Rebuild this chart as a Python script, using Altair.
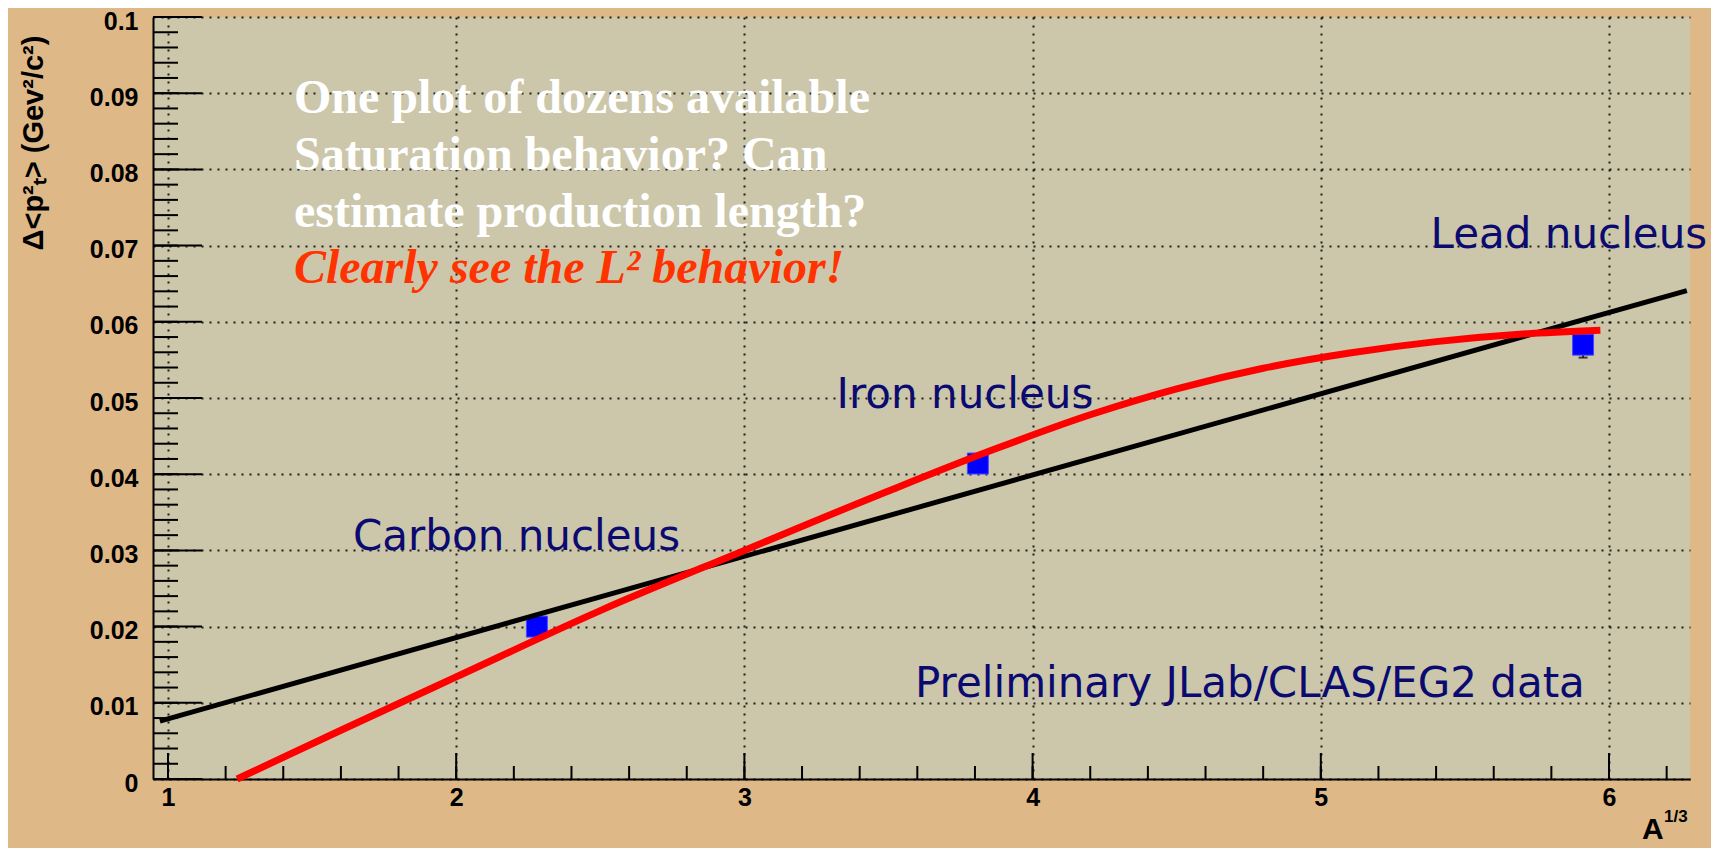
import altair as alt
import pandas as pd

# ---------------- data ----------------
X_DOMAIN = [0.948, 6.281]
Y_DOMAIN = [0.0, 0.1]

NUCLEI = ["Carbon", "Iron", "Lead"]
A13 = [2.28, 3.81, 5.91]
DPT2 = [0.0200, 0.0414, 0.0570]
DPT2_ERR = [0.0010, 0.0012, 0.0017]

LIN_X = [0.972, 6.27]
LIN_Y = [0.0076, 0.0641]

CURVE_X = [1.24, 1.6, 2.0, 2.5, 3.0, 3.5, 3.876, 4.2, 4.5, 4.8, 5.1, 5.4, 5.7, 5.97]
CURVE_Y = [0.0, 0.0064, 0.0134, 0.0221, 0.0300, 0.0378, 0.0434, 0.0478, 0.0512,
           0.0539, 0.0559, 0.0574, 0.0584, 0.0589]

X_TICKS = [1, 2, 3, 4, 5, 6]
X_MINOR = [1.0, 1.2, 1.4, 1.6, 1.8, 2.0, 2.2, 2.4, 2.6, 2.8, 3.0, 3.2, 3.4, 3.6, 3.8,
           4.0, 4.2, 4.4, 4.6, 4.8, 5.0, 5.2, 5.4, 5.6, 5.8, 6.0, 6.2]
Y_TICKS = [0.0, 0.01, 0.02, 0.03, 0.04, 0.05, 0.06, 0.07, 0.08, 0.09, 0.1]
Y_MINOR = [round(i * 0.002, 3) for i in range(51)]

NOTE_LINES = ["One plot of dozens available", "Saturation behavior? Can",
              "estimate production length?"]
NOTE_X = [1.437, 1.437, 1.437]
NOTE_Y = [0.0874, 0.0799, 0.0724]
RED_NOTE = ["Clearly see the L\u00b2 behavior!"]
RED_NOTE_X = [1.437]
RED_NOTE_Y = [0.0651]

LABELS = ["Lead nucleus", "Iron nucleus", "Carbon nucleus",
          "Preliminary JLab/CLAS/EG2 data"]
LABEL_X = [5.381, 3.32, 1.642, 3.592]
LABEL_Y = [0.0697, 0.0487, 0.0301, 0.0108]

# ---------------- styles ----------------
OUTER_BG = "#DEB887"
PLOT_BG = "#CCC7AA"
NAVY = "#0A0A70"
W, H = 1537, 762

xs = alt.Scale(domain=X_DOMAIN, nice=False, zero=False)
ys = alt.Scale(domain=Y_DOMAIN, nice=False, zero=False)

xaxis = alt.Axis(values=X_TICKS, format="d", title=None, grid=True,
                 gridDash=[2, 6], gridColor="black", gridWidth=2, gridOpacity=0.85,
                 ticks=False, domainColor="black", domainWidth=2,
                 labelFont="Liberation Sans", labelFontWeight="bold",
                 labelFontSize=25, labelColor="black", labelPadding=6,
                 labelFlush=False)
yaxis = alt.Axis(values=Y_TICKS, format="~g", title=None, grid=True,
                 gridDash=[2, 6], gridColor="black", gridWidth=2, gridOpacity=0.85,
                 ticks=False, domainColor="black", domainWidth=2,
                 labelFont="Liberation Sans", labelFontWeight="bold",
                 labelFontSize=25, labelColor="black", labelPadding=15,
                 labelOffset=4, labelFlush=False)


def X(f="x"):
    return alt.X(f"{f}:Q", scale=xs, axis=xaxis)


def Y(f="y"):
    return alt.Y(f"{f}:Q", scale=ys, axis=yaxis)


pts = pd.DataFrame({"name": NUCLEI, "x": A13, "y": DPT2, "err": DPT2_ERR})
pts["lo"] = pts["y"] - pts["err"]
pts["hi"] = pts["y"] + pts["err"]

lin = pd.DataFrame({"x": LIN_X, "y": LIN_Y})
curve = pd.DataFrame({"x": CURVE_X, "y": CURVE_Y})

# inward ticks
ymaj = alt.Chart(pd.DataFrame({"y": Y_TICKS})).mark_rule(color="black", strokeWidth=2).encode(
    y=Y(), x=alt.value(0), x2=alt.value(49))
ymin = alt.Chart(pd.DataFrame({"y": Y_MINOR})).mark_rule(color="black", strokeWidth=2).encode(
    y=Y(), x=alt.value(0), x2=alt.value(25))
xmaj = alt.Chart(pd.DataFrame({"x": X_TICKS})).mark_rule(color="black", strokeWidth=2).encode(
    x=X(), y=alt.value(H), y2=alt.value(H - 26))
xmin = alt.Chart(pd.DataFrame({"x": X_MINOR})).mark_rule(color="black", strokeWidth=2).encode(
    x=X(), y=alt.value(H), y2=alt.value(H - 13))

# data points with error bars
err = alt.Chart(pts).mark_rule(color="black", strokeWidth=1.5).encode(
    x=X(), y=Y("lo"), y2="hi:Q")
caps_lo = alt.Chart(pts).mark_tick(color="black", orient="horizontal", size=9, thickness=2).encode(
    x=X(), y=Y("lo"))
caps_hi = alt.Chart(pts).mark_tick(color="black", orient="horizontal", size=9, thickness=2).encode(
    x=X(), y=Y("hi"))
squares = alt.Chart(pts).mark_square(color="#0000FF", size=441, opacity=1,
                                     stroke="#4A4AFF", strokeWidth=1).encode(
    x=X(), y=Y())

line_fit = alt.Chart(lin).mark_line(color="black", strokeWidth=5).encode(x=X(), y=Y())
curve_fit = alt.Chart(curve).mark_line(color="#FF0000", strokeWidth=7,
                                       interpolate="monotone").encode(x=X(), y=Y())

notes = alt.Chart(pd.DataFrame({"t": NOTE_LINES, "x": NOTE_X, "y": NOTE_Y})).mark_text(
    font="Liberation Serif", fontWeight="bold", fontSize=48, color="white",
    align="left", baseline="alphabetic").encode(x=X(), y=Y(), text="t:N")
red_note = alt.Chart(pd.DataFrame({"t": RED_NOTE, "x": RED_NOTE_X, "y": RED_NOTE_Y})).mark_text(
    font="Liberation Serif", fontWeight="bold", fontStyle="italic", fontSize=48,
    color="#FF3300", align="left", baseline="alphabetic").encode(x=X(), y=Y(), text="t:N")
labels = alt.Chart(pd.DataFrame({"t": LABELS, "x": LABEL_X, "y": LABEL_Y})).mark_text(
    font="DejaVu Sans", fontSize=42, color=NAVY,
    align="left", baseline="alphabetic").encode(x=X(), y=Y(), text="t:N")

# axis titles
ytitle = alt.Chart(pd.DataFrame({"t": ["\u0394<p\u00b2\u209c> (Gev\u00b2/c\u00b2)"]})).mark_text(
    font="Liberation Sans", fontWeight="bold", fontSize=29, color="black", angle=270,
    align="center", baseline="alphabetic").encode(
    x=alt.value(-110), y=alt.value(126), text="t:N")
xtitle_a = alt.Chart(pd.DataFrame({"t": ["A"]})).mark_text(
    font="Liberation Sans", fontWeight="bold", fontSize=30, color="black",
    align="left", baseline="alphabetic").encode(
    x=alt.value(1489), y=alt.value(822), text="t:N")
xtitle_p = alt.Chart(pd.DataFrame({"t": ["1/3"]})).mark_text(
    font="Liberation Sans", fontWeight="bold", fontSize=17, color="black",
    align="left", baseline="alphabetic").encode(
    x=alt.value(1511), y=alt.value(805), text="t:N")

chart = alt.layer(
    ymin, ymaj, xmin, xmaj,
    err, caps_lo, caps_hi, squares,
    line_fit, curve_fit,
    notes, red_note, labels,
    ytitle, xtitle_a, xtitle_p,
).properties(
    width=W, height=H,
    background=OUTER_BG,
    autosize=alt.AutoSizeParams(type="none"),
    padding={"left": 145, "top": 9, "right": 21, "bottom": 69},
).configure_view(fill=PLOT_BG, stroke=None)

chart.save("out.html", embed_options={"renderer": "svg", "actions": False})
